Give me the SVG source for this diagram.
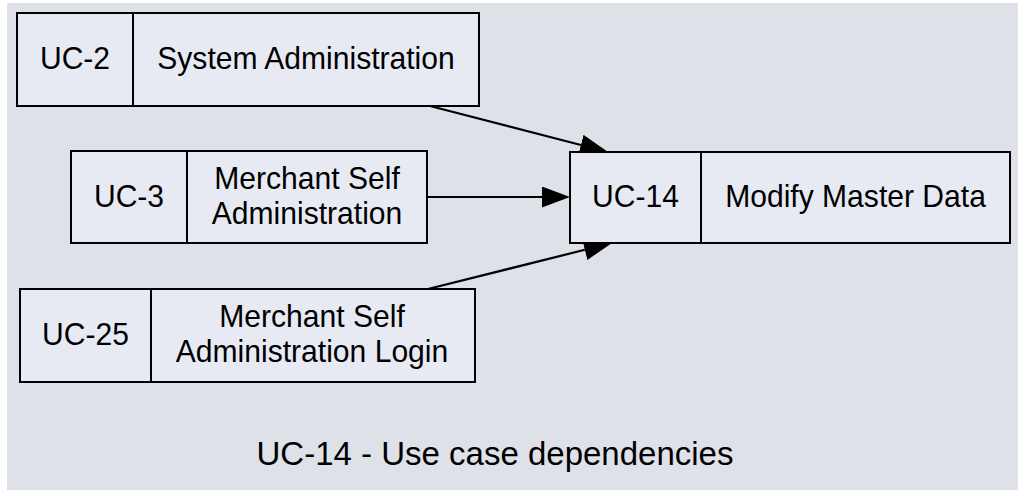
<svg xmlns="http://www.w3.org/2000/svg" width="1018" height="490" viewBox="0 0 1018 490">
  <defs>
    <style>
      .bg { fill: #dfe1e8; }
      .box { fill: #e8eaf3; stroke: #000; stroke-width: 2; }
      .div { stroke: #000; stroke-width: 2; }
      .t { font-family: "Liberation Sans", Arial, sans-serif; font-size: 32px; fill: #000; text-anchor: middle; }
      .title { font-family: "Liberation Sans", Arial, sans-serif; font-size: 33px; fill: #000; text-anchor: middle; }
      .edge { stroke: #000; stroke-width: 2.2; fill: none; }
    </style>
    <marker id="arrow" markerUnits="userSpaceOnUse" markerWidth="28" markerHeight="21" refX="0" refY="10.5" orient="auto">
      <path d="M0,0 L28,10.5 L0,21 z" fill="#000"/>
    </marker>
  </defs>
  <rect class="bg" x="7" y="3" width="1011" height="487"/>

  <g id="connectors">
    <line class="edge" x1="430" y1="106" x2="580.9" y2="145" marker-end="url(#arrow)"/>
    <line class="edge" x1="427" y1="197" x2="542" y2="197" marker-end="url(#arrow)"/>
    <line class="edge" x1="428" y1="289" x2="584.8" y2="249.8" marker-end="url(#arrow)"/>
  </g>

  <g id="uc2">
    <rect class="box" x="17" y="13" width="462" height="93"/>
    <line class="div" x1="133" y1="13" x2="133" y2="106"/>
    <text class="t" transform="matrix(0.94 0 0 1 75 0)" x="0" y="69">UC-2</text>
    <text class="t" transform="matrix(0.94 0 0 1 306 0)" x="0" y="69">System Administration</text>
  </g>

  <g id="uc3">
    <rect class="box" x="71" y="151" width="356" height="92"/>
    <line class="div" x1="187" y1="151" x2="187" y2="243"/>
    <text class="t" transform="matrix(0.94 0 0 1 129 0)" x="0" y="207">UC-3</text>
    <text class="t" transform="matrix(0.94 0 0 1 307 0)" x="0" y="189">Merchant Self</text>
    <text class="t" transform="matrix(0.94 0 0 1 307 0)" x="0" y="224">Administration</text>
  </g>

  <g id="uc25">
    <rect class="box" x="20" y="289" width="455" height="93"/>
    <line class="div" x1="151" y1="289" x2="151" y2="382"/>
    <text class="t" transform="matrix(0.94 0 0 1 85.5 0)" x="0" y="345">UC-25</text>
    <text class="t" transform="matrix(0.94 0 0 1 312 0)" x="0" y="327">Merchant Self</text>
    <text class="t" transform="matrix(0.94 0 0 1 312 0)" x="0" y="362">Administration Login</text>
  </g>

  <g id="uc14">
    <rect class="box" x="570" y="152" width="440" height="91"/>
    <line class="div" x1="701" y1="152" x2="701" y2="243"/>
    <text class="t" transform="matrix(0.94 0 0 1 635.5 0)" x="0" y="207">UC-14</text>
    <text class="t" transform="matrix(0.94 0 0 1 855.5 0)" x="0" y="207">Modify Master Data</text>
  </g>

  <text class="title" x="495" y="465">UC-14 - Use case dependencies</text>
</svg>
